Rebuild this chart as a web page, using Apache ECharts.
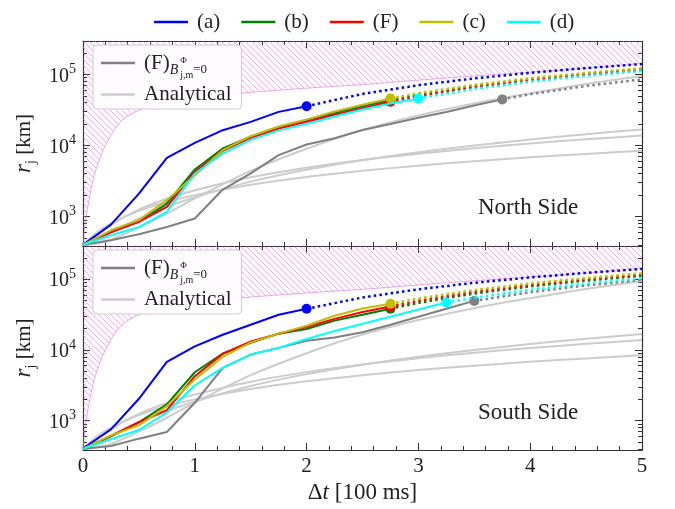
<!DOCTYPE html>
<html>
<head>
<meta charset="utf-8">
<script src="https://cdn.jsdelivr.net/npm/echarts@6/dist/echarts.min.js"></script>
<style>
  html, body { margin: 0; padding: 0; background: #fff; }
  #chart { width: 675px; height: 509px; }
</style>
</head>
<body>
<div id="chart"></div>
<script>
// ---- data ----
const tCurve = [0, 0.25, 0.5, 0.75, 1, 1.25, 1.5, 1.75, 2, 2.25, 2.5, 2.75, 3, 3.25, 3.5, 3.75];

// North side, solid parts
const northA = [400, 770, 2100, 6700, 10900, 16400, 21500, 29700, 35700];
const northB = [400, 610, 850, 1520, 4590, 9080, 13300, 18000, 22200, 28500, 35500, 43500];
const northF = [400, 600, 840, 1370, 4250, 8400, 12800, 17300, 21500, 27000, 33500, 41100];
const northC = [400, 640, 890, 1700, 3820, 8590, 13500, 18500, 23200, 30000, 37500, 45900];
const northD = [400, 545, 710, 1160, 4030, 7700, 12000, 16300, 19950, 25500, 32000, 39000, 45900];
const northNoB = [400, 463, 562, 714, 940, 2400, 4040, 7300, 10300, 12600, 16500, 20000, 24500, 29500, 36500, 44500];

// South side, solid parts
const southA = [404, 753, 2040, 6780, 11250, 16400, 22700, 31400, 38200];
const southB = [400, 607, 950, 1700, 4840, 8900, 12600, 17000, 19800, 26000, 31500, 38200];
const southF = [400, 607, 955, 1410, 4250, 8800, 13200, 17000, 21100, 27500, 34500, 41100];
const southC = [400, 620, 860, 1610, 3820, 7960, 12800, 17000, 22000, 30500, 38500, 44900];
const southD = [400, 546, 738, 1300, 3170, 5570, 8600, 10700, 14300, 18500, 23500, 29400, 37300, 46800];
const southNoB = [400, 438, 557, 692, 1790, 5570, 8600, 10700, 13500, 15000, 17800, 22700, 29400, 38200, 49400];

// dotted extrapolations: [t, r] pairs
const northExt = {
  a: [[2, 35700], [2.5, 53100], [3, 70500], [3.5, 87800], [4, 105200], [4.5, 122600], [5, 140000]],
  b: [[2.75, 43500], [3, 51900], [3.5, 68700], [4, 85500], [4.5, 102000], [5, 119000]],
  F: [[2.75, 41100], [3, 49400], [3.5, 66100], [4, 82700], [4.5, 99400], [5, 116000]],
  c: [[2.75, 45900], [3, 54400], [3.5, 71300], [4, 88200], [4.5, 105000], [5, 122000]],
  d: [[3, 45900], [3.5, 62400], [4, 79000], [4.5, 95500], [5, 112000]],
  g: [[3.75, 44500], [4, 52600], [4.5, 68800], [5, 85000]]
};
const southExt = {
  a: [[2, 38200], [2.5, 55200], [3, 72100], [3.5, 89100], [4, 106000], [4.5, 123000], [5, 140000]],
  b: [[2.75, 38200], [3, 46400], [3.5, 62800], [4, 79200], [4.5, 95600], [5, 112000]],
  F: [[2.75, 41100], [3, 49500], [3.5, 66400], [4, 83300], [4.5, 100000], [5, 117000]],
  c: [[2.75, 44900], [3, 53400], [3.5, 70300], [4, 87200], [4.5, 104000], [5, 121000]],
  d: [[3.25, 46800], [3.5, 54800], [4, 70900], [4.5, 86900], [5, 103000]],
  g: [[3.5, 49400], [4, 65500], [4.5, 81700], [5, 97800]]
};

// analytical curves
const tAna = [0, 0.1, 0.25, 0.5, 0.75, 1, 1.5, 2, 2.5, 3, 3.5, 4, 4.5, 5];
const ana1 = [400, 450, 600, 930, 1360, 1870, 3100, 4550, 6200, 8000, 10000, 12100, 14400, 16800];
const ana2 = [400, 520, 770, 1250, 1780, 2340, 3560, 4860, 6230, 7660, 9130, 10650, 12200, 13800];
const ana3 = [400, 560, 800, 1200, 1600, 2000, 2800, 3600, 4400, 5200, 6000, 6800, 7600, 8400];
const ana4 = [400, 410, 470, 700, 1100, 1800, 4400, 9000, 16500, 26500, 39000, 54000, 73000, 94700];

// causality limit (hatched above)
const tLimit = [0, 0.02, 0.05, 0.1, 0.15, 0.2, 0.3, 0.4, 0.6, 0.8, 1, 1.5, 2, 2.5, 3, 3.5, 4, 4.5, 5];
const rLimit = [385, 800, 1600, 3800, 6500, 10000, 18500, 26000, 36000, 43000, 48000, 56000, 64000, 72000, 83000, 95000, 108000, 122000, 143000];

const xTicks = [0, 1, 2, 3, 4, 5];
const yMajor = [1000, 10000, 100000];
const yMinor = [400, 500, 600, 700, 800, 900, 2000, 3000, 4000, 5000, 6000, 7000, 8000, 9000,
  20000, 30000, 40000, 50000, 60000, 70000, 80000, 90000, 200000];

const colors = { a: '#0000ff', b: '#008000', F: '#ff0000', c: '#bfbf00', d: '#00ffff', g: '#808080', ana: '#cccccc' };
const serif = '"Liberation Serif", "DejaVu Serif", serif';

// ---- helpers ----
function zip(ts, vs) { return vs.map((v, i) => [ts[i], v]); }

function withEnd(points, size) {
  const out = points.slice(0, -1);
  out.push({ value: points[points.length - 1], symbol: 'circle', symbolSize: size });
  return out;
}

function hatch() {
  const c = document.createElement('canvas');
  c.width = 6; c.height = 6;
  const g = c.getContext('2d');
  g.strokeStyle = 'rgba(214,120,214,0.55)';
  g.lineWidth = 1;
  g.beginPath();
  g.moveTo(-1, -1); g.lineTo(7, 7);
  g.moveTo(-1, 5); g.lineTo(1, 7);
  g.moveTo(5, -1); g.lineTo(7, 1);
  g.stroke();
  return c;
}
const hatchImg = hatch();

function solid(name, data, color, xi, yi, z, marker) {
  return {
    name, type: 'line', xAxisIndex: xi, yAxisIndex: yi, z,
    data: marker ? withEnd(data, 10) : data,
    symbol: 'none', itemStyle: { color },
    lineStyle: { color, width: 2 },
    emphasis: { disabled: true }, silent: true
  };
}

function dotted(name, data, color, xi, yi, z) {
  return {
    name, type: 'line', xAxisIndex: xi, yAxisIndex: yi, z, data,
    symbol: 'none', itemStyle: { color },
    lineStyle: { color, width: 2.5, type: [2.5, 3.2] },
    emphasis: { disabled: true }, silent: true
  };
}

function panelSeries(p, xi, yi) {
  const s = [];
  s.push({
    name: 'limit', type: 'line', xAxisIndex: xi, yAxisIndex: yi, z: 1,
    data: zip(tLimit, rLimit), symbol: 'none', smooth: 0.3,
    lineStyle: { color: 'rgba(218,112,214,0.6)', width: 1 },
    areaStyle: { origin: 'end', color: { image: hatchImg, repeat: 'repeat' }, opacity: 1 },
    silent: true
  });
  [ana1, ana2, ana3, ana4].forEach(v => s.push(Object.assign(
    solid('Analytical', zip(tAna, v), colors.ana, xi, yi, 2, false), { smooth: 0.3 })));
  s.push(solid('F0', zip(tCurve, p.g), colors.g, xi, yi, 3, true));
  s.push(dotted('F0-ext', p.ext.g, colors.g, xi, yi, 3));
  ['a', 'b', 'F', 'c', 'd'].forEach((k, i) => {
    s.push(dotted(k + '-ext', p.ext[k], colors[k], xi, yi, 4 + i));
  });
  ['a', 'b', 'F', 'c', 'd'].forEach((k, i) => {
    s.push(solid('(' + k + ')', zip(tCurve, p[k]), colors[k], xi, yi, 10 + i, true));
  });
  return s;
}

// ---- axes ----
const axisColor = '#333';
function xAxisDef(grid, pos, labels) {
  return {
    type: 'value', gridIndex: grid, position: pos, min: 0, max: 5, interval: 1,
    axisLine: { onZero: false, lineStyle: { color: axisColor, width: 1.2 } },
    axisTick: { inside: true, length: 7, lineStyle: { color: axisColor } },
    minorTick: { show: true, splitNumber: 5, length: 4, lineStyle: { color: axisColor } },
    splitLine: { show: false },
    axisLabel: {
      show: labels, margin: 6, color: '#222', fontFamily: serif, fontSize: 21,
      customValues: xTicks
    },
    name: labels ? '{n|Δ}{i|t} [100 ms]' : '',
    nameLocation: 'middle', nameGap: 31,
    nameTextStyle: {
      color: '#222', fontFamily: serif, fontSize: 23,
      rich: { n: { fontFamily: serif, fontSize: 23 }, i: { fontFamily: serif, fontSize: 23, fontStyle: 'italic' } }
    }
  };
}

function yMajorDef(grid, pos) {
  const left = pos === 'left';
  return {
    type: 'log', logBase: 10, gridIndex: grid, position: pos, min: 385, max: 295000,
    axisLine: { onZero: false, lineStyle: { color: axisColor, width: 1.2 } },
    axisTick: { inside: true, length: 7, customValues: yMajor, lineStyle: { color: axisColor } },
    minorTick: { show: false },
    splitLine: { show: false },
    axisLabel: {
      show: left, margin: 7, customValues: yMajor, color: '#222',
      formatter: v => '{b|10}{s|' + Math.round(Math.log10(v)) + '}',
      rich: {
        b: { fontFamily: serif, fontSize: 20, lineHeight: 24, verticalAlign: 'bottom' },
        s: { fontFamily: serif, fontSize: 14, lineHeight: 24, verticalAlign: 'top' }
      }
    },
    name: left ? '{i|r}{s|j} [km]' : '',
    nameLocation: 'middle', nameGap: 44, nameRotate: 90,
    nameTextStyle: {
      color: '#222', fontFamily: serif, fontSize: 21,
      rich: {
        i: { fontFamily: serif, fontSize: 23, fontStyle: 'italic', lineHeight: 28, verticalAlign: 'middle' },
        s: { fontFamily: serif, fontSize: 14, lineHeight: 18, verticalAlign: 'bottom' }
      }
    }
  };
}

function yMinorDef(grid, pos) {
  return {
    type: 'log', logBase: 10, gridIndex: grid, position: pos, min: 385, max: 295000,
    axisLine: { show: false, onZero: false },
    axisTick: { inside: true, length: 4, customValues: yMinor, lineStyle: { color: axisColor } },
    axisLabel: { show: false },
    splitLine: { show: false }
  };
}

// ---- inner legend ----
function innerLegend(top) {
  return {
    data: ['F0', 'Analytical'], orient: 'vertical', left: 93, top,
    icon: 'rect', itemWidth: 34, itemHeight: 2.5, itemGap: 4,
    padding: [3, 10, 4, 8],
    backgroundColor: 'rgba(255,255,255,0.85)', borderColor: '#cccccc', borderWidth: 1, borderRadius: 4,
    selectedMode: false,
    formatter: n => n === 'F0'
      ? '{m|(F)}{b|B}{sp|Φ}{sb|j,m}{e|=0}'
      : '{m|Analytical}',
    textStyle: {
      color: '#222', padding: [0, 0, 0, 4],
      rich: {
        m: { fontFamily: serif, fontSize: 21, lineHeight: 30, verticalAlign: 'middle' },
        b: { fontFamily: serif, fontSize: 14, fontStyle: 'italic', lineHeight: 14, verticalAlign: 'bottom', padding: [0, 1, 1, 0] },
        sp: { fontFamily: serif, fontSize: 9, lineHeight: 9, width: 0, verticalAlign: 'top', padding: [8, 0, 0, 1] },
        sb: { fontFamily: serif, fontSize: 10, lineHeight: 10, verticalAlign: 'bottom', padding: [0, 0, -2, 0] },
        e: { fontFamily: serif, fontSize: 13, lineHeight: 13, verticalAlign: 'bottom', padding: [0, 0, 2, 0] }
      }
    }
  };
}

const north = { a: northA, b: northB, F: northF, c: northC, d: northD, g: northNoB, ext: northExt };
const south = { a: southA, b: southB, F: southF, c: southC, d: southD, g: southNoB, ext: southExt };

const chart = echarts.init(document.getElementById('chart'), null, { renderer: 'canvas' });
chart.setOption({
  animation: false,
  backgroundColor: '#fff',
  grid: [
    { left: 83, right: 33, top: 41, height: 205 },
    { left: 83, right: 33, top: 246, height: 204 }
  ],
  xAxis: [
    xAxisDef(0, 'bottom', false), xAxisDef(0, 'top', false),
    xAxisDef(1, 'bottom', true), xAxisDef(1, 'top', false)
  ],
  yAxis: [
    yMajorDef(0, 'left'), yMinorDef(0, 'left'), yMajorDef(0, 'right'), yMinorDef(0, 'right'),
    yMajorDef(1, 'left'), yMinorDef(1, 'left'), yMajorDef(1, 'right'), yMinorDef(1, 'right')
  ],
  legend: [
    {
      data: ['(a)', '(b)', '(F)', '(c)', '(d)'], left: 149, top: 4,
      icon: 'rect', itemWidth: 34, itemHeight: 2.5, itemGap: 21, selectedMode: false,
      textStyle: { fontFamily: serif, fontSize: 21, lineHeight: 26, color: '#222', padding: [0, 0, 0, 4] }
    },
    innerLegend(45),
    innerLegend(250)
  ],
  graphic: [
    { type: 'text', left: 478, top: 196, style: { text: 'North Side', font: '23px ' + serif, fill: '#222' } },
    { type: 'text', left: 478, top: 401, style: { text: 'South Side', font: '23px ' + serif, fill: '#222' } }
  ],
  series: [].concat(panelSeries(north, 0, 0), panelSeries(south, 2, 4))
});
</script>
</body>
</html>
